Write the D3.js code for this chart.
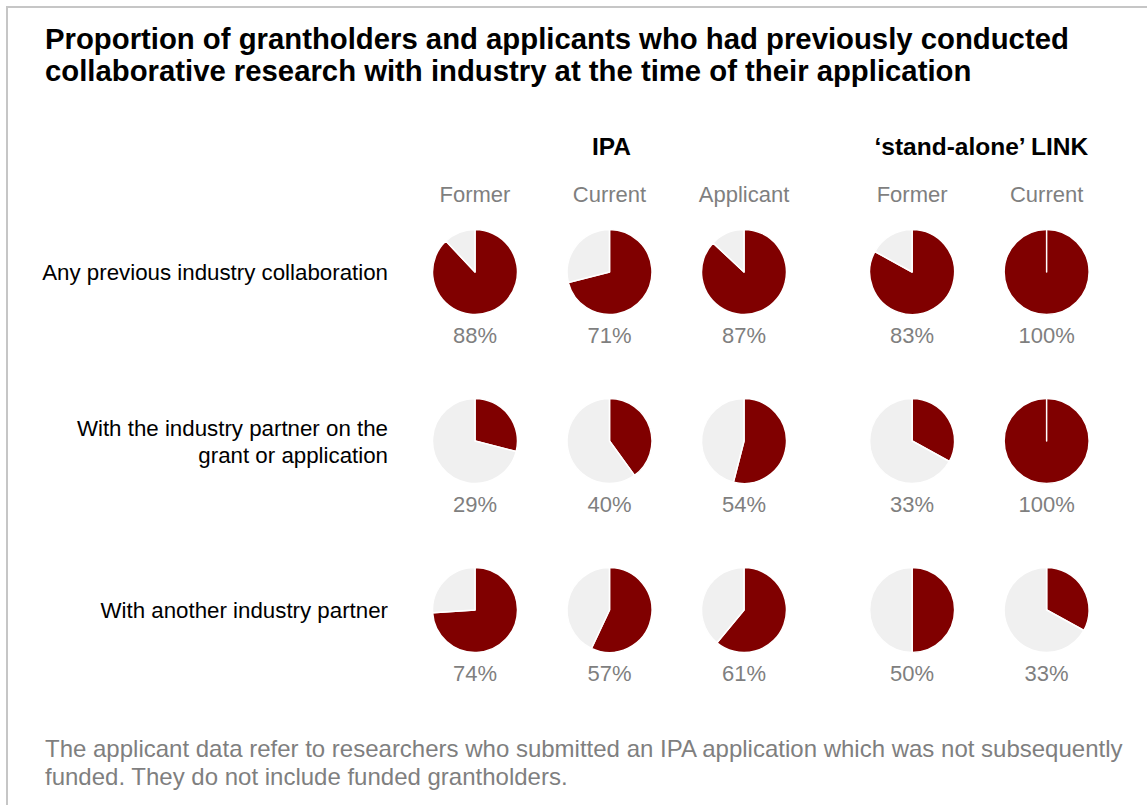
<!DOCTYPE html>
<html>
<head>
<meta charset="utf-8">
<script src="https://cdn.jsdelivr.net/npm/d3@7"></script>
<style>
  html, body { margin: 0; padding: 0; background: #fff; }
  svg { display: block; font-family: "Liberation Sans", Arial, sans-serif; }
</style>
</head>
<body>
<svg id="chart" width="1147" height="805"></svg>
<script>
// ---- data ----
const titleLines = [
  "Proportion of grantholders and applicants who had previously conducted",
  "collaborative research with industry at the time of their application"
];
const groups = ["IPA", "\u2018stand-alone\u2019 LINK"];
const columns = ["Former", "Current", "Applicant", "Former", "Current"];
const columnGroup = [0, 0, 0, 1, 1];
const rowLabels = [
  ["Any previous industry collaboration"],
  ["With the industry partner on the", "grant or application"],
  ["With another industry partner"]
];
// percentage per row, one value per column
const anyPrevious = [88, 71, 87, 83, 100];
const withPartner = [29, 40, 54, 33, 100];
const withAnother = [74, 57, 61, 50, 33];
const rowValues = [anyPrevious, withPartner, withAnother];
const footnoteLines = [
  "The applicant data refer to researchers who submitted an IPA application which was not subsequently",
  "funded. They do not include funded grantholders."
];

// ---- layout ----
const W = 1147, H = 805;
const dark = "#800000", light = "#f0f0f0", grey = "#7f7f7f";
const radius = 42.5;
const groupGap = 0.25;

const svg = d3.select("#chart");

// frame
svg.append("rect")
  .attr("x", 7).attr("y", 7)
  .attr("width", W + 20).attr("height", H + 20)
  .attr("fill", "none")
  .attr("stroke", "#c6c6c6")
  .attr("stroke-width", 2);

// title
svg.append("g").selectAll("text")
  .data(titleLines).join("text")
  .attr("x", 45)
  .attr("y", (d, i) => 49 + i * 32)
  .attr("font-size", 29.3)
  .attr("font-weight", "bold")
  .attr("fill", "#000")
  .text(d => d);

// column slot -> x, row index -> y
const slot = columns.map((c, i) => i + columnGroup[i] * groupGap);
const x = d3.scaleLinear().domain([0, 1]).range([475, 609.5]);
const y = d3.scaleLinear().domain([0, 1]).range([272, 441]);

// group headings centred over their columns
svg.append("g").selectAll("text")
  .data(groups).join("text")
  .attr("x", (g, gi) => {
    const xs = slot.filter((s, i) => columnGroup[i] === gi).map(x);
    return (d3.min(xs) + d3.max(xs)) / 2 + 2;
  })
  .attr("y", 155)
  .attr("text-anchor", "middle")
  .attr("font-size", 24.5)
  .attr("font-weight", "bold")
  .attr("fill", "#000")
  .text(d => d);

// column headings
svg.append("g").selectAll("text")
  .data(columns).join("text")
  .attr("x", (d, i) => x(slot[i]))
  .attr("y", 202)
  .attr("text-anchor", "middle")
  .attr("font-size", 22)
  .attr("fill", grey)
  .text(d => d);

// row labels (right aligned)
const rowG = svg.append("g").selectAll("text")
  .data(rowLabels).join("text")
  .attr("text-anchor", "end")
  .attr("font-size", 22.3)
  .attr("fill", "#000");
rowG.selectAll("tspan")
  .data((lines, ri) => lines.map((l, li) => ({ l, li, ri, n: lines.length })))
  .join("tspan")
  .attr("x", 388)
  .attr("y", d => y(d.ri) + 8 + (d.li - (d.n - 1) / 2) * 27)
  .text(d => d.l);

// pies
const pie = d3.pie().sort(null).value(d => d.v);
const arc = d3.arc().innerRadius(0).outerRadius(radius);

rowValues.forEach((vals, ri) => {
  vals.forEach((v, ci) => {
    const g = svg.append("g")
      .attr("transform", `translate(${x(slot[ci])},${y(ri)})`);
    const parts = [{ v: v, c: dark }, { v: 100 - v, c: light }];
    g.selectAll("path")
      .data(pie(parts)).join("path")
      .attr("d", arc)
      .attr("fill", d => d.data.c)
      .attr("stroke", "#fff")
      .attr("stroke-width", 1.5)
      .attr("stroke-linejoin", "round");
    g.append("text")
      .attr("y", 71)
      .attr("text-anchor", "middle")
      .attr("font-size", 22)
      .attr("fill", grey)
      .text(v + "%");
  });
});

// footnote
svg.append("g").selectAll("text")
  .data(footnoteLines).join("text")
  .attr("x", 45)
  .attr("y", (d, i) => 757 + i * 28)
  .attr("font-size", 24)
  .attr("fill", grey)
  .text(d => d);
</script>
</body>
</html>
